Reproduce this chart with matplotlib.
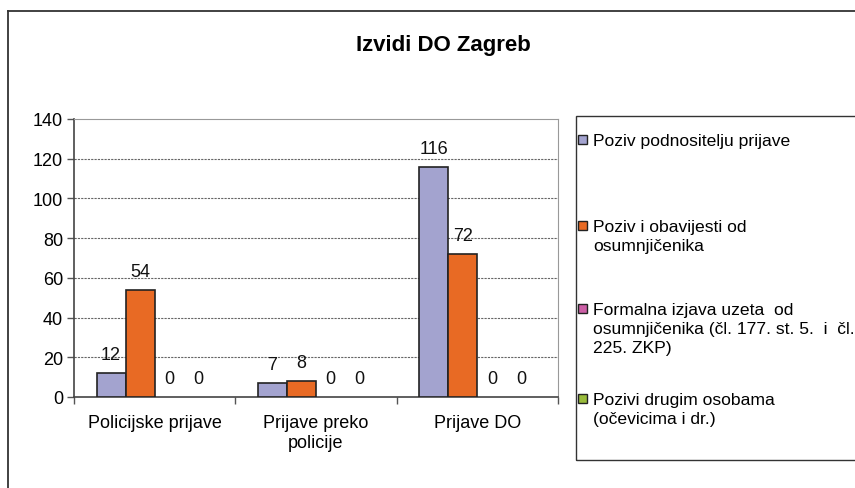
import numpy as np
import matplotlib.pyplot as plt
from matplotlib.patches import Rectangle
from matplotlib.lines import Line2D

plt.rcParams['font.family'] = ['Liberation Sans', 'DejaVu Sans']

title = "Izvidi DO Zagreb"
categories = ["Policijske prijave", "Prijave preko\npolicije", "Prijave DO"]
series_names = [
    "Poziv podnositelju prijave",
    "Poziv i obavijesti od\nosumnjičenika",
    "Formalna izjava uzeta  od\nosumnjičenika (čl. 177. st. 5.  i  čl.\n225. ZKP)",
    "Pozivi drugim osobama\n(očevicima i dr.)",
]
poziv_podnositelju = [12, 7, 116]
poziv_osumnjicenika = [54, 8, 72]
formalna_izjava = [0, 0, 0]
pozivi_drugim = [0, 0, 0]
colors = ["#A3A3CF", "#E86A24", "#CC5FA6", "#99BB3B"]
yticks = [0, 20, 40, 60, 80, 100, 120, 140]

series = [poziv_podnositelju, poziv_osumnjicenika, formalna_izjava, pozivi_drugim]

fig = plt.figure(figsize=(8.55, 4.89), dpi=100)
W, H = 855, 489
ax = fig.add_axes([74 / W, 1 - 398 / H, (558 - 74) / W, (398 - 120) / H])

x = np.arange(len(categories))
bw = 0.18
for i, (vals, c) in enumerate(zip(series, colors)):
    bars = ax.bar(x + (i - 1.5) * bw, vals, bw, color=c, edgecolor="#222222",
                  linewidth=1.2, zorder=3)
    for b, v in zip(bars, vals):
        if v == 0:
            b.set_linewidth(0)  # empty bars are invisible in the original
    ax.bar_label(bars, labels=[str(v) for v in vals], padding=7, fontsize=13,
                 color="#111111")

ax.set_xlim(-0.5, 2.5)
ax.set_ylim(0, 140)
ax.set_yticks(yticks)
ax.tick_params(axis="y", labelsize=13, length=5, width=1, color="#555555", pad=3)
ax.set_xticks(x)
ax.set_xticklabels(categories, fontsize=13, linespacing=1.25)
ax.tick_params(axis="x", which="major", length=0, pad=12)
ax.set_xticks([-0.5, 0.5, 1.5, 2.5], minor=True)
ax.tick_params(axis="x", which="minor", length=5, width=1, color="#555555")
for y in yticks[1:-1]:
    ax.axhline(y, color="#666666", linestyle=(0, (2, 1)), linewidth=0.8, zorder=1)
for s in ["top", "right"]:
    ax.spines[s].set_color("#999999")
for s in ["left", "bottom"]:
    ax.spines[s].set_color("#444444")
    ax.spines[s].set_linewidth(1.2)

fig.text(443 / W, 1 - 45 / H, title, ha="center", va="center", fontsize=16,
         fontweight="bold")

# outer chart border (cropped on right and bottom)
fig.add_artist(Line2D([8 / W, 8 / W], [0, 1 - 12 / H], color="#333333", lw=1.3))
fig.add_artist(Line2D([8 / W, 1], [1 - 12 / H, 1 - 12 / H], color="#333333", lw=1.3))

# legend box
fig.add_artist(Rectangle((576 / W, 1 - 461 / H), 0.5, (461 - 117) / H,
                         transform=fig.transFigure, facecolor="none",
                         edgecolor="#333333", lw=1.0))
entry_y = [140, 226, 309, 399]
for name, c, ey in zip(series_names, colors, entry_y):
    fig.add_artist(Rectangle((578 / W, 1 - (ey + 5) / H), 9 / W, 9 / H,
                             transform=fig.transFigure, facecolor=c,
                             edgecolor="#222222", lw=1.0))
    fig.text(593 / W, 1 - (ey - 6) / H, name, ha="left", va="top", fontsize=12.6,
             linespacing=1.32)

fig.savefig("out.png", dpi=100)
